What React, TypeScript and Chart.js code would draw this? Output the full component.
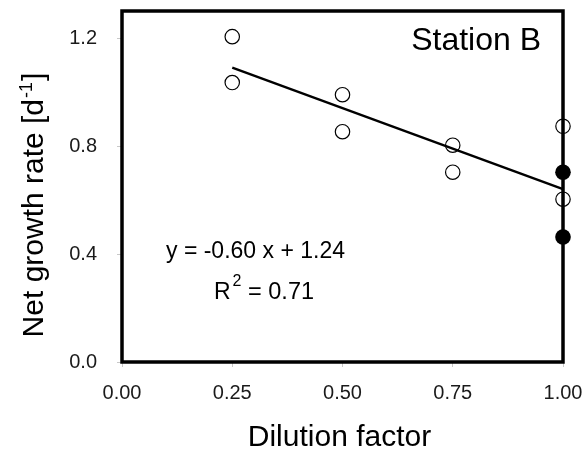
import React, { useEffect, useRef } from "react";
import { Chart, registerables } from "chart.js";

Chart.register(...registerables);

// ---- data ----
const openX = [0.25, 0.25, 0.5, 0.5, 0.75, 0.75, 1.0, 1.0];
const openY = [1.205, 1.035, 0.99, 0.853, 0.803, 0.703, 0.873, 0.603];
const filledX = [1.0, 1.0];
const filledY = [0.703, 0.463];
const fitSlope = -0.6;
const fitIntercept = 1.24;
const fitRange = [0.25, 1.0];
const xTicks = [0, 0.25, 0.5, 0.75, 1.0];
const yTicks = [0, 0.4, 0.8, 1.2];
const xTitle = "Dilution factor";
const yTitleMain = "Net growth rate [d";
const yTitleSup = "-1";
const yTitleEnd = "]";
const stationLabel = "Station B";
const eqLine = "y = -0.60 x + 1.24";
const r2Value = "0.71";

const FONT = "'Liberation Sans', Arial, sans-serif";

const zeroPad = (s: any) => {
  s.paddingTop = 0;
  s.paddingBottom = 0;
  s.paddingLeft = 0;
  s.paddingRight = 0;
};

const overlayPlugin = {
  id: "overlay",
  beforeDatasetsDraw(chart: any) {
    const { ctx, chartArea } = chart;
    ctx.save();
    ctx.strokeStyle = "#000";
    ctx.lineWidth = 3.5;
    ctx.strokeRect(
      chartArea.left,
      chartArea.top,
      chartArea.right - chartArea.left,
      chartArea.bottom - chartArea.top
    );
    ctx.restore();
  },
  afterDraw(chart: any) {
    const { ctx, chartArea } = chart;
    ctx.save();
    ctx.fillStyle = "#000";
    ctx.textBaseline = "alphabetic";

    // Station label
    ctx.font = `32px ${FONT}`;
    ctx.textAlign = "right";
    ctx.fillText(stationLabel, 541, 50);

    // Equation
    ctx.textAlign = "left";
    ctx.font = `23px ${FONT}`;
    ctx.fillText(eqLine, 166, 258);
    // R^2
    let x = 214;
    ctx.fillText("R", x, 299);
    x += ctx.measureText("R").width + 2;
    ctx.font = `16px ${FONT}`;
    ctx.fillText("2", x, 286);
    const supW = ctx.measureText("2").width;
    ctx.font = `23.5px ${FONT}`;
    ctx.fillText(" = " + r2Value, x + supW, 299);

    // X title
    ctx.font = `30px ${FONT}`;
    ctx.textAlign = "center";
    ctx.fillText(xTitle, (chartArea.left + chartArea.right) / 2 - 3, 446);

    // Y title (rotated)
    ctx.translate(43, 205);
    ctx.rotate(-Math.PI / 2);
    ctx.font = `30px ${FONT}`;
    const w1 = ctx.measureText(yTitleMain).width;
    ctx.font = `18px ${FONT}`;
    const w2 = ctx.measureText(yTitleSup).width;
    ctx.font = `30px ${FONT}`;
    const w3 = ctx.measureText(yTitleEnd).width;
    const total = w1 + w2 + w3 + 2;
    let sx = -total / 2;
    ctx.textAlign = "left";
    ctx.fillText(yTitleMain, sx, 0);
    sx += w1 + 1;
    ctx.font = `18px ${FONT}`;
    ctx.fillText(yTitleSup, sx, -11);
    sx += w2 + 1;
    ctx.font = `30px ${FONT}`;
    ctx.fillText(yTitleEnd, sx, 0);
    ctx.restore();
  },
};

export default function App() {
  const ref = useRef<HTMLCanvasElement | null>(null);

  useEffect(() => {
    if (!ref.current) return;
    const openData = openX.map((v, i) => ({ x: v, y: openY[i] }));
    const filledData = filledX.map((v, i) => ({ x: v, y: filledY[i] }));
    const fitData = fitRange.map((v) => ({ x: v, y: fitSlope * v + fitIntercept }));

    const chart = new Chart(ref.current, {
      type: "scatter",
      data: {
        datasets: [
          {
            type: "line",
            data: fitData,
            borderColor: "#000",
            borderWidth: 2.4,
            pointRadius: 0,
            fill: false,
            clip: false,
          } as any,
          {
            data: openData,
            pointStyle: "circle",
            pointRadius: 7.2,
            backgroundColor: "rgba(0,0,0,0)",
            borderColor: "#000",
            borderWidth: 1.2,
            clip: false,
          } as any,
          {
            data: filledData,
            pointStyle: "circle",
            pointRadius: 7.8,
            backgroundColor: "#000",
            borderColor: "#000",
            borderWidth: 0,
            clip: false,
          } as any,
        ],
      },
      options: {
        animation: false,
        responsive: true,
        maintainAspectRatio: false,
        layout: { padding: { left: 0, top: 11, right: 24, bottom: 0 } },
        plugins: { legend: { display: false }, tooltip: { enabled: false } },
        scales: {
          x: {
            type: "linear",
            min: 0,
            max: 1,
            afterFit: (s: any) => {
              s.height = 97;
              zeroPad(s);
            },
            afterBuildTicks: (s: any) => {
              s.ticks = xTicks.map((v) => ({ value: v }));
            },
            border: { display: false },
            grid: {
              drawOnChartArea: false,
              drawTicks: true,
              tickLength: 5,
              color: "#c8c8c8",
              lineWidth: 1,
            },
            ticks: {
              padding: 14,
              color: "#1a1a1a",
              font: { family: FONT, size: 20 },
              callback: (v: any) => Number(v).toFixed(2),
              maxRotation: 0,
            },
          },
          y: {
            type: "linear",
            min: 0,
            max: 1.3,
            afterFit: (s: any) => {
              s.width = 122;
              zeroPad(s);
            },
            afterBuildTicks: (s: any) => {
              s.ticks = yTicks.map((v) => ({ value: v }));
            },
            border: { display: false },
            grid: {
              drawOnChartArea: false,
              drawTicks: true,
              tickLength: 5,
              color: "#c8c8c8",
              lineWidth: 1,
            },
            ticks: {
              padding: 20,
              color: "#1a1a1a",
              font: { family: FONT, size: 20 },
              callback: (v: any) => Number(v).toFixed(1),
            },
          },
        },
      },
      plugins: [overlayPlugin],
    } as any);
    return () => chart.destroy();
  }, []);

  return (
    <div
      style={{
        position: "fixed",
        left: 0,
        top: 0,
        width: 587,
        height: 459,
        background: "#fff",
      }}
    >
      <canvas ref={ref} />
    </div>
  );
}
